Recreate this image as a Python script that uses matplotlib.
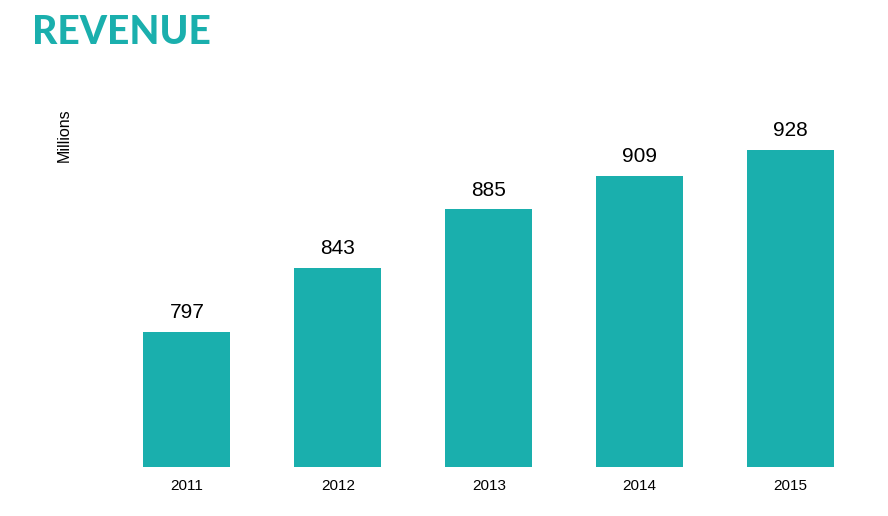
import matplotlib
matplotlib.use("Agg")
import matplotlib.pyplot as plt

years = ["2011", "2012", "2013", "2014", "2015"]
revenue = [797, 843, 885, 909, 928]

teal = "#1aafad"
W, H = 888, 516
fig = plt.figure(figsize=(W / 100, H / 100), dpi=100)
plt.rcParams["font.family"] = ["Liberation Sans", "DejaVu Sans"]

left_px, right_px = 111.5, 111.5 + 754.5
bottom_px = 467
scale = 1.3924
ymin, ymax = 700, 960
height_px = (ymax - ymin) * scale
ax = fig.add_axes([left_px / W, (H - bottom_px) / H, (right_px - left_px) / W, height_px / H])

x = range(len(years))
bars = ax.bar(x, revenue, width=0.577, color=teal)
ax.set_xlim(-0.5, len(years) - 0.5)
ax.set_ylim(ymin, ymax)
ax.set_xticks(list(x))
ax.set_xticklabels(years, fontsize=11)
ax.tick_params(axis="x", length=0, pad=9)
ax.set_yticks([])
for s in ax.spines.values():
    s.set_visible(False)

ax.bar_label(bars, labels=[str(v) for v in revenue], padding=7, fontsize=15)

fig.text(64 / W, 1 - 135 / H, "Millions", rotation=90, fontsize=11.5,
         ha="center", va="center")

fig.text(32 / W, 1 - 44 / H, "REVENUE", fontsize=28, fontweight="black",
         family=["Lato", "DejaVu Sans"], color=teal, ha="left", va="baseline")

fig.savefig("out.png", dpi=100)
